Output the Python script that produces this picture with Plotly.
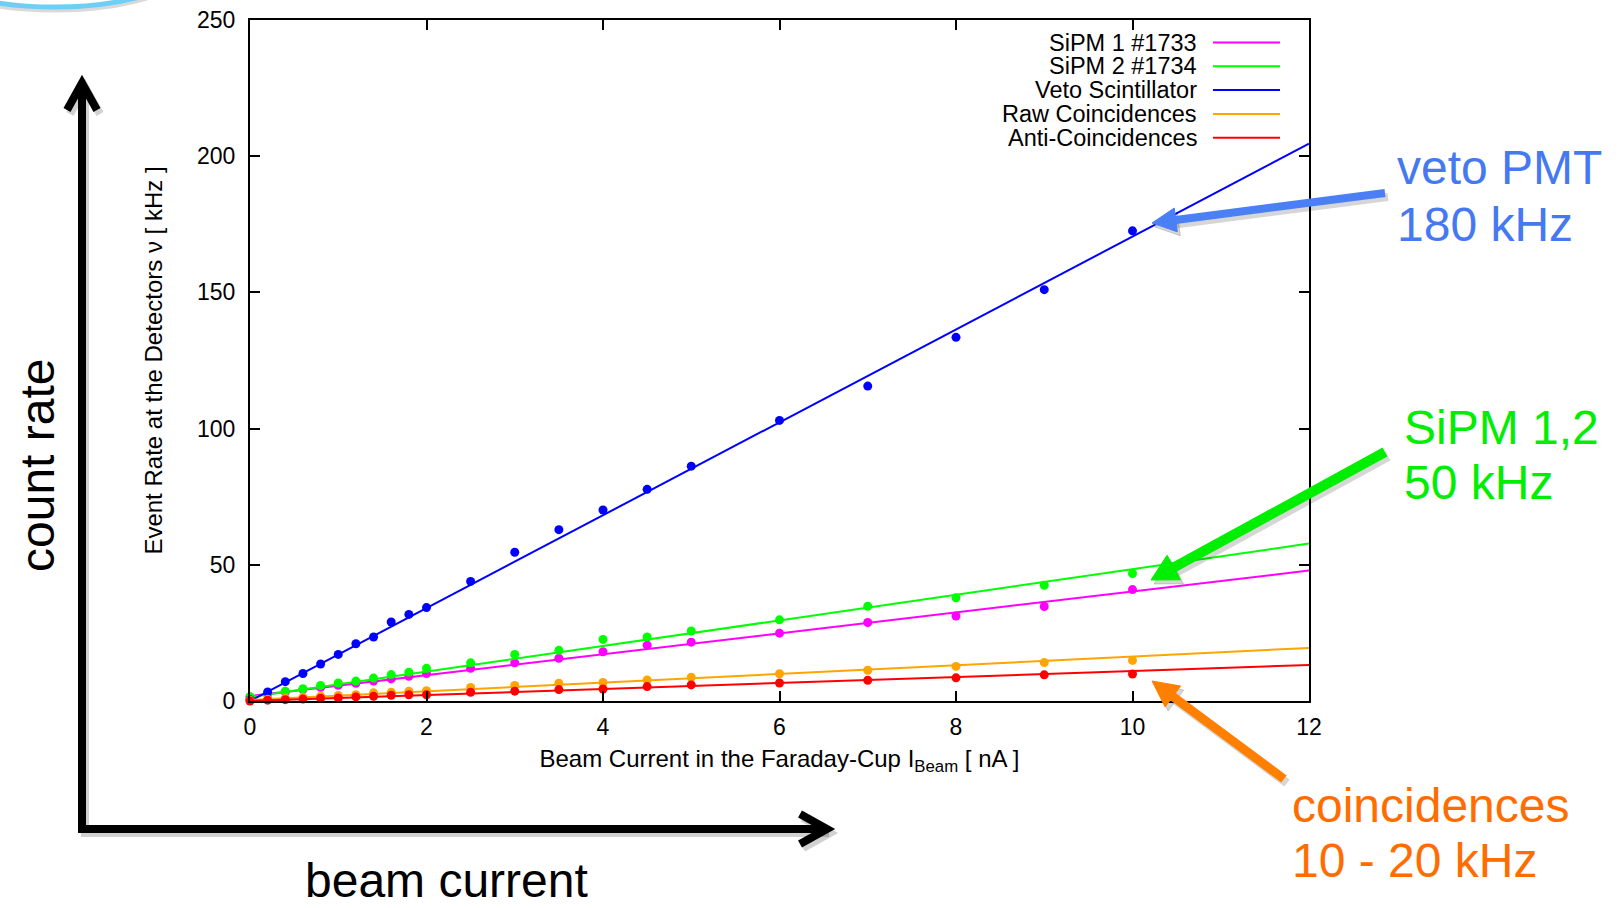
import math
import plotly.graph_objects as go

# ---------------- data ----------------
current = [0, 0.2, 0.4, 0.6, 0.8, 1.0, 1.2, 1.4, 1.6, 1.8, 2.0, 2.5, 3.0, 3.5,
           4.0, 4.5, 5.0, 6.0, 7.0, 8.0, 9.0, 10.0]
sipm1 = [1.5, 2.4, 3.3, 4.2, 5.0, 5.8, 6.5, 7.3, 8.1, 9.1, 10.1, 12.0, 14.0, 15.7,
         18.1, 20.5, 21.6, 24.9, 28.8, 31.2, 34.7, 40.9]
sipm2 = [1.6, 2.6, 3.6, 4.5, 5.7, 6.6, 7.3, 8.4, 9.7, 10.6, 12.0, 14.0, 17.1, 18.6,
         22.6, 23.5, 25.7, 29.8, 34.8, 37.9, 42.5, 46.8]
veto = [0.5, 3.3, 7.1, 10.1, 13.6, 17.1, 21.0, 23.5, 29.0, 31.8, 34.3, 43.9, 54.6, 62.9,
        70.1, 77.7, 86.2, 103.0, 115.6, 133.5, 151.0, 172.6]
raw_coinc = [0.3, 0.6, 1.0, 1.4, 1.8, 2.0, 2.3, 3.0, 3.2, 3.6, 3.8, 5.0, 5.7, 6.5,
             6.8, 7.7, 8.7, 10.0, 11.3, 12.7, 14.1, 14.9]
anti_coinc = [0.0, 0.3, 0.5, 0.7, 1.0, 1.1, 1.5, 1.7, 2.1, 2.3, 2.3, 3.2, 3.6, 4.2,
              4.4, 5.3, 5.9, 6.6, 7.6, 8.5, 9.6, 9.9]

series_names = ["SiPM 1 #1733", "SiPM 2 #1734", "Veto Scintillator",
                "Raw Coincidences", "Anti-Coincidences"]
series_values = [sipm1, sipm2, veto, raw_coinc, anti_coinc]
series_colors = ["#FF00FF", "#00FF00", "#0000FF", "#FFA500", "#FF0000"]

# linear fits (slope [kHz/nA], intercept [kHz])
fit_slope = [3.84, 4.70, 17.05, 1.59, 1.10]
fit_intercept = [1.8, 1.4, 0.0, 0.4, 0.0]
fit_range = [0, 12]

x_ticks = [0, 2, 4, 6, 8, 10, 12]
y_ticks = [0, 50, 100, 150, 200, 250]

# ---------------- layout geometry ----------------
W, H = 1623, 908
PL, PR, PT, PB = 250, 1309, 20, 701  # plot area in pixels
FONT = "Liberation Sans, Arial, Helvetica, sans-serif"


def px(X):
    return (X - PL) / (PR - PL)


def py(Y):
    return (PB - Y) / (PB - PT)


fig = go.Figure()

for name, vals, col, a, b in zip(series_names, series_values, series_colors,
                                 fit_slope, fit_intercept):
    fig.add_trace(go.Scatter(
        x=current, y=vals, mode="markers", name=name, showlegend=False,
        marker=dict(color=col, size=9, symbol="circle"), cliponaxis=False))
    fig.add_trace(go.Scatter(
        x=fit_range, y=[a * fit_range[0] + b, a * fit_range[1] + b], mode="lines",
        name=name + " fit", showlegend=False, line=dict(color=col, width=2)))

shapes = []
annotations = []

# ---- custom gnuplot-style legend (text right, sample line left) ----
for i, (name, col) in enumerate(zip(series_names, series_colors)):
    yy = 42.5 + 23.8 * i
    annotations.append(dict(xref="paper", yref="paper", x=px(1199), y=py(yy),
                            xanchor="right", yanchor="middle", showarrow=False,
                            text=name, font=dict(family=FONT, size=23.5, color="black")))
    shapes.append(dict(type="line", xref="paper", yref="paper",
                       x0=px(1213), x1=px(1280), y0=py(yy), y1=py(yy),
                       line=dict(color=col, width=2)))


def arrow(tail, tip, color, width, head_len, head_w, shadow=True):
    out = []
    dx, dy = tip[0] - tail[0], tip[1] - tail[1]
    L = math.hypot(dx, dy)
    ux, uy = dx / L, dy / L
    nx, ny = -uy, ux
    bx, by = tip[0] - head_len * ux, tip[1] - head_len * uy
    pts = [(tip[0], tip[1]), (bx + head_w * nx, by + head_w * ny),
           (bx - head_w * nx, by - head_w * ny)]
    layers = []
    if shadow:
        layers.append((3, 4, "rgba(0,0,0,0.16)"))
    layers.append((0, 0, color))
    for ox, oy, c in layers:
        out.append(dict(type="line", xref="paper", yref="paper",
                        x0=px(tail[0] + ox), y0=py(tail[1] + oy),
                        x1=px(bx + ux * 2 + ox), y1=py(by + uy * 2 + oy),
                        line=dict(color=c, width=width)))
        path = "M {} {} L {} {} L {} {} Z".format(
            *[v for p in pts for v in (px(p[0] + ox), py(p[1] + oy))])
        out.append(dict(type="path", xref="paper", yref="paper", path=path,
                        fillcolor=c, line=dict(color=c, width=1)))
    return out


# coloured call-out arrows
shapes += arrow((1385, 193), (1152, 223), "#4A7FF6", 8, 24, 12)
shapes += arrow((1385, 452), (1151, 580), "#00EE00", 10, 26, 14)
shapes += arrow((1284, 779), (1152, 681), "#FF8000", 9, 26, 13)

# big black "count rate / beam current" axes arrows (with soft shadow)
for ox, oy, c in [(3, 4, "rgba(0,0,0,0.18)"), (0, 0, "black")]:
    shapes.append(dict(type="path", xref="paper", yref="paper",
                       path="M {} {} L {} {} L {} {}".format(
                           px(82 + ox), py(84 + oy), px(82 + ox), py(829 + oy),
                           px(826 + ox), py(829 + oy)),
                       line=dict(color=c, width=8)))
    shapes.append(dict(type="path", xref="paper", yref="paper",
                       path="M {} {} L {} {} L {} {}".format(
                           px(67 + ox), py(110 + oy), px(82 + ox), py(83 + oy),
                           px(97 + ox), py(110 + oy)),
                       line=dict(color=c, width=8)))
    shapes.append(dict(type="path", xref="paper", yref="paper",
                       path="M {} {} L {} {} L {} {}".format(
                           px(800 + ox), py(814 + oy), px(827 + ox), py(829 + oy),
                           px(800 + ox), py(844 + oy)),
                       line=dict(color=c, width=8)))

# light-blue ellipse peeking in at the top-left corner
for oy, c in [(3, "rgba(0,0,0,0.15)"), (0, "#6ECFF6")]:
    shapes.append(dict(type="circle", xref="paper", yref="paper",
                       x0=px(55 - 150), x1=px(55 + 150),
                       y0=py(-51 - 58 + oy), y1=py(-51 + 58 + oy),
                       line=dict(color=c, width=5)))

# big slide texts
big = 48
annotations += [
    dict(xref="paper", yref="paper", x=px(37), y=py(466), text="count rate",
         textangle=-90, showarrow=False, xanchor="center", yanchor="middle",
         font=dict(family=FONT, size=big, color="black")),
    dict(xref="paper", yref="paper", x=px(446), y=py(880), text="beam current",
         showarrow=False, xanchor="center", yanchor="middle",
         font=dict(family=FONT, size=big, color="black")),
    dict(xref="paper", yref="paper", x=px(1395), y=py(167), text="veto PMT",
         showarrow=False, xanchor="left", yanchor="middle",
         font=dict(family=FONT, size=big, color="#4479F2")),
    dict(xref="paper", yref="paper", x=px(1395), y=py(224), text="180 kHz",
         showarrow=False, xanchor="left", yanchor="middle",
         font=dict(family=FONT, size=big, color="#4479F2")),
    dict(xref="paper", yref="paper", x=px(1402), y=py(427), text="SiPM 1,2",
         showarrow=False, xanchor="left", yanchor="middle",
         font=dict(family=FONT, size=big, color="#00EE00")),
    dict(xref="paper", yref="paper", x=px(1402), y=py(483), text="50 kHz",
         showarrow=False, xanchor="left", yanchor="middle",
         font=dict(family=FONT, size=big, color="#00EE00")),
    dict(xref="paper", yref="paper", x=px(1290), y=py(805), text="coincidences",
         showarrow=False, xanchor="left", yanchor="middle",
         font=dict(family=FONT, size=big, color="#FF6D00")),
    dict(xref="paper", yref="paper", x=px(1290), y=py(860), text="10 - 20 kHz",
         showarrow=False, xanchor="left", yanchor="middle",
         font=dict(family=FONT, size=big, color="#FF6D00")),
]

axis_common = dict(showline=True, linecolor="black", linewidth=2, mirror="ticks",
                   ticks="inside", ticklen=10, tickwidth=1.5, tickcolor="black",
                   showgrid=False, zeroline=False, automargin=False,
                   tickfont=dict(family=FONT, size=23, color="black"))

fig.update_layout(
    width=W, height=H, autosize=False,
    margin=dict(l=PL, r=W - PR, t=PT, b=H - PB, pad=0),
    paper_bgcolor="white", plot_bgcolor="white",
    showlegend=False,
    font=dict(family=FONT, color="black"),
    xaxis=dict(range=[0, 12], tickvals=x_ticks, ticklabelstandoff=4,
               title=dict(text="Beam Current in the Faraday-Cup I<sub>Beam</sub> [ nA ]",
                          font=dict(family=FONT, size=24), standoff=12),
               **axis_common),
    yaxis=dict(range=[0, 250], tickvals=y_ticks, ticklabelstandoff=8,
               title=dict(text="Event Rate at the Detectors ν [ kHz ]",
                          font=dict(family=FONT, size=24), standoff=28),
               **axis_common),
    shapes=shapes,
    annotations=annotations,
)

fig.write_html("out.html")
